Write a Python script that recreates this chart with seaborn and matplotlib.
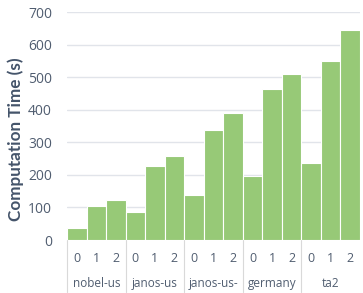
import matplotlib
matplotlib.use("Agg")
import matplotlib.pyplot as plt
import matplotlib.transforms as mtransforms
import pandas as pd
import seaborn as sns

grupos = ["nobel-us", "janos-us", "janos-us-", "germany", "ta2"]
niveis = ["0", "1", "2"]
tempos = [
    [37, 104, 123],
    [85, 226, 258],
    [137, 337, 390],
    [195, 464, 509],
    [236, 551, 644],
]

linhas = []
for g, vals in zip(grupos, tempos):
    for n, v in zip(niveis, vals):
        linhas.append({"pos": f"{g}|{n}", "grupo": g, "nivel": n, "tempo": v})
df = pd.DataFrame(linhas)
ordem = list(df["pos"])

sns.set_style("white")
plt.rcParams["font.family"] = ["Open Sans", "DejaVu Sans"]

cor_texto = "#505d70"
fig = plt.figure(figsize=(3.63, 2.93), dpi=100)
ax = fig.add_axes([67 / 363, 1 - 240 / 293, 293 / 363, 228 / 293])

sns.barplot(data=df, x="pos", y="tempo", order=ordem, color="#97c977",
            saturation=1, width=1.0, edgecolor="white", linewidth=0.8, ax=ax)

ax.set_ylim(0, 700)
ax.set_xlim(-0.5, len(ordem) - 0.5)
ax.set_yticks(range(0, 701, 100))
ax.yaxis.grid(True, color="#e1e4ea", linewidth=1.0)
ax.set_axisbelow(True)
ax.tick_params(axis="y", labelsize=10, labelcolor=cor_texto, length=0, pad=10.8)
ax.set_xticks([])
ax.set_xlabel("")
rotulo = ax.set_ylabel("Computation Time (s)", fontsize=12, fontweight="bold",
                       color="#44546a", family=["Lato", "DejaVu Sans"])
rotulo.set_va("center")
ax.yaxis.set_label_coords(-0.174, 0.443)

# ajusta o tamanho do rotulo para ocupar ~162 px como no original
fig.canvas.draw()
alt = rotulo.get_window_extent().height
rotulo.set_fontsize(12 * 162 / alt)

for s in ax.spines.values():
    s.set_visible(False)

# eixo de categorias em dois niveis, estilo Excel
trans = mtransforms.blended_transform_factory(ax.transData, ax.transAxes)
for i, (g, n) in enumerate(zip(df["grupo"], df["nivel"])):
    ax.text(i, -0.079, n, transform=trans, ha="center", va="center",
            fontsize=9, color=cor_texto)
for k, g in enumerate(grupos):
    ax.text(3 * k + 1, -0.19, g, transform=trans, ha="center", va="center",
            fontsize=8.5, color=cor_texto)
    ax.plot([3 * k - 0.5, 3 * k - 0.5], [0, -0.228], transform=trans,
            color="#d9d9d9", linewidth=0.8, clip_on=False)

fig.savefig("out.png", dpi=100)
plt.close(fig)
